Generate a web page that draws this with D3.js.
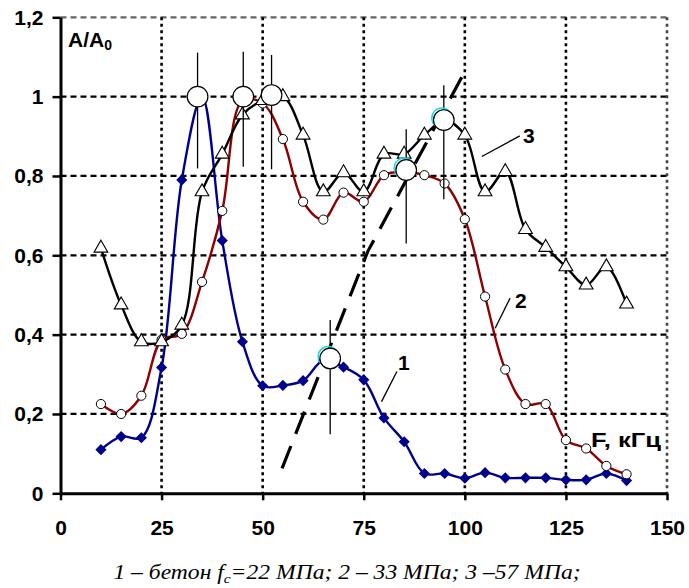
<!DOCTYPE html>
<html>
<head>
<meta charset="utf-8">
<script src="https://cdn.jsdelivr.net/npm/d3@7"></script>
<style>
  body { margin: 0; background: #fff; }
  text { font-family: "Liberation Sans", Arial, sans-serif; font-weight: bold; fill: #000; }
</style>
</head>
<body>
<div id="chart"></div>
<script>
// data

var freq = [10, 15, 20, 25, 30, 35, 40, 45, 50, 55, 60, 65, 70, 75, 80, 85, 90, 95, 100, 105, 110, 115, 120, 125, 130, 135, 140];

var series1 = [0.11, 0.143, 0.14, 0.317, 0.79, 1.0, 0.637, 0.382, 0.271, 0.272, 0.284, 0.335, 0.318, 0.286, 0.19, 0.13, 0.05, 0.05, 0.038, 0.052, 0.039, 0.039, 0.039, 0.034, 0.034, 0.05, 0.032];
var series2 = [0.225, 0.2, 0.246, 0.387, 0.402, 0.533, 0.712, 0.99, 0.983, 0.893, 0.735, 0.69, 0.758, 0.735, 0.802, 0.81, 0.802, 0.781, 0.691, 0.496, 0.312, 0.225, 0.225, 0.134, 0.113, 0.069, 0.048];
var series3 = [0.618, 0.475, 0.382, 0.382, 0.424, 0.76, 0.855, 0.954, 0.99, 1.0, 0.903, 0.76, 0.808, 0.76, 0.855, 0.855, 0.903, 0.94, 0.903, 0.76, 0.811, 0.665, 0.62, 0.571, 0.525, 0.571, 0.477];

// peak markers (big circles) and their vertical bars
var peakX = [33.9, 45.2, 52.2, 66.7, 85.5, 94.8];
var peakY = [1.0, 1.0, 1.004, 0.34, 0.815, 0.941];
var barLo = [0.819, 0.823, 0.817, 0.149, 0.63, 0.741];
var barHi = [1.111, 1.113, 1.105, 0.437, 0.918, 1.029];

// dashed trend line
var trendX = [54.8, 76, 99.3];
var trendY = [0.063, 0.61, 1.05];

var xTicks = [0, 25, 50, 75, 100, 125, 150];
var yTicks = [0, 0.2, 0.4, 0.6, 0.8, 1.0, 1.2];

var caption = "1 – бетон ";

// svg size

var svgWidth = 689;
var svgHeight = 588;

var svg = d3.select("#chart")
  .append("svg")
  .attr("width", svgWidth)
  .attr("height", svgHeight);

var xScale = d3.scaleLinear().domain([0, 150]).range([60.5, 667]);
var yScale = d3.scaleLinear().domain([0, 1.2]).range([493.3, 17.3]);

// grid lines

svg.append("g").selectAll("line").data(yTicks.slice(1)).enter()
  .append("line")
  .attr("x1", xScale(0)).attr("x2", xScale(150))
  .attr("y1", d => yScale(d)).attr("y2", d => yScale(d))
  .attr("stroke", d => d == 1.2 ? "#666" : "#000")
  .attr("stroke-width", 2.2)
  .attr("stroke-dasharray", "6,4");

svg.append("g").selectAll("line").data(xTicks.slice(1)).enter()
  .append("line")
  .attr("x1", d => xScale(d)).attr("x2", d => xScale(d))
  .attr("y1", yScale(1.2)).attr("y2", yScale(0))
  .attr("stroke", d => d == 150 ? "#444" : "#000")
  .attr("stroke-width", 2.6)
  .attr("stroke-dasharray", "3,3.5");

// axes

var fmt = d => d == 0 ? "0" : String(+d.toFixed(1)).replace(".", ",");

var xAxis = svg.append("g")
  .attr("transform", "translate(0," + yScale(0) + ")")
  .call(d3.axisBottom(xScale).tickValues(xTicks).tickSize(7).tickPadding(20).tickSizeOuter(0));

var yAxis = svg.append("g")
  .attr("transform", "translate(" + xScale(0) + ",0)")
  .call(d3.axisLeft(yScale).tickValues(yTicks).tickFormat(fmt).tickSize(8).tickPadding(9).tickSizeOuter(0));

[xAxis, yAxis].forEach(function(a) {
  a.select(".domain").attr("stroke", "#000").attr("stroke-width", 3);
  a.selectAll(".tick line").attr("stroke", "#000").attr("stroke-width", 2.5);
  a.selectAll(".tick text")
    .attr("font-size", 21)
    .attr("font-family", "Liberation Sans, Arial, sans-serif")
    .attr("font-weight", "bold")
    .attr("fill", "#000");
});

// curves

var line = d3.line()
  .x((d, i) => xScale(freq[i]))
  .y(d => yScale(d))
  .curve(d3.curveCatmullRom.alpha(0.5));

svg.append("path").datum(series1)
  .attr("d", line).attr("fill", "none")
  .attr("stroke", "#00008c").attr("stroke-width", 2.4);

svg.append("g").selectAll("path").data(series1).enter()
  .append("path")
  .attr("d", d3.symbol().type(d3.symbolSquare).size(62))
  .attr("transform", (d, i) => "translate(" + xScale(freq[i]) + "," + yScale(d) + ") rotate(45)")
  .attr("fill", "#00008c");

svg.append("path").datum(series2)
  .attr("d", line).attr("fill", "none")
  .attr("stroke", "#8c0000").attr("stroke-width", 2.4);

svg.append("g").selectAll("circle").data(series2).enter()
  .append("circle")
  .attr("cx", (d, i) => xScale(freq[i]))
  .attr("cy", d => yScale(d))
  .attr("r", 4.6)
  .attr("fill", "#fff").attr("stroke", "#000").attr("stroke-width", 1);

svg.append("path").datum(series3)
  .attr("d", line).attr("fill", "none")
  .attr("stroke", "#000").attr("stroke-width", 2.4);

svg.append("g").selectAll("path").data(series3).enter()
  .append("path")
  .attr("d", d3.symbol().type(d3.symbolTriangle).size(82))
  .attr("transform", (d, i) => "translate(" + xScale(freq[i]) + "," + yScale(d) + ")")
  .attr("fill", "#fff").attr("stroke", "#000").attr("stroke-width", 1.1);

// dashed trend

var trendLine = d3.line()
  .x((d, i) => xScale(trendX[i]))
  .y(d => yScale(d));

svg.append("path").datum(trendY)
  .attr("d", trendLine).attr("fill", "none")
  .attr("stroke", "#000").attr("stroke-width", 3.2)
  .attr("stroke-dasharray", "24,13");

// peak bars and big circles

svg.append("g").selectAll("line").data(peakX).enter()
  .append("line")
  .attr("x1", d => xScale(d)).attr("x2", d => xScale(d))
  .attr("y1", (d, i) => yScale(barHi[i])).attr("y2", (d, i) => yScale(barLo[i]))
  .attr("stroke", "#000").attr("stroke-width", 1.3);

svg.append("g").selectAll("circle").data(peakX.slice(3)).enter()
  .append("circle")
  .attr("cx", d => xScale(d) - 2)
  .attr("cy", (d, i) => yScale(peakY[i + 3]) - 2)
  .attr("r", 10)
  .attr("fill", "none").attr("stroke", "#22d8e8").attr("stroke-width", 1.5);

svg.append("g").selectAll("circle").data(peakX).enter()
  .append("circle")
  .attr("cx", d => xScale(d))
  .attr("cy", (d, i) => yScale(peakY[i]))
  .attr("r", 10.3)
  .attr("fill", "#fff").attr("stroke", "#000").attr("stroke-width", 1.2);

// curve labels with leader lines

var leaders = [[79.4, 0.231, 83.2, 0.307], [107.5, 0.416, 111.2, 0.492], [104.2, 0.849, 113.6, 0.901]];
svg.append("g").selectAll("line").data(leaders).enter()
  .append("line")
  .attr("x1", d => xScale(d[0])).attr("y1", d => yScale(d[1]))
  .attr("x2", d => xScale(d[2])).attr("y2", d => yScale(d[3]))
  .attr("stroke", "#000").attr("stroke-width", 1.3);

var labels = [["1", 83.5, 0.311], ["2", 112.4, 0.467], ["3", 114.4, 0.883]];
svg.append("g").selectAll("text").data(labels).enter()
  .append("text")
  .attr("x", d => xScale(d[1])).attr("y", d => yScale(d[2]))
  .attr("font-size", 21)
  .text(d => d[0]);

svg.append("text")
  .attr("x", xScale(131.2)).attr("y", yScale(0.117))
  .attr("font-size", 20)
  .attr("textLength", 70)
  .attr("lengthAdjust", "spacingAndGlyphs")
  .text("F, кГц");

var aLabel = svg.append("text")
  .attr("x", xScale(1.85)).attr("y", yScale(1.126))
  .attr("font-size", 21);
aLabel.append("tspan").text("A/A");
aLabel.append("tspan").attr("font-size", 14).attr("dy", 3).text("0");

// caption under the chart (a bit stretched, like the source)

var cap = svg.append("text")
  .attr("transform", "translate(347,579) scale(1.18,1)")
  .attr("text-anchor", "middle")
  .style("font-family", "Liberation Serif, Times New Roman, serif")
  .style("font-style", "italic")
  .style("font-weight", "normal")
  .attr("font-size", 20);
cap.append("tspan").text(caption + "f");
cap.append("tspan").attr("font-size", 13).attr("dy", 4).text("c");
cap.append("tspan").attr("dy", -4).text("=22 МПа; 2 – 33 МПа; 3 –57 МПа;");
</script>
</body>
</html>
